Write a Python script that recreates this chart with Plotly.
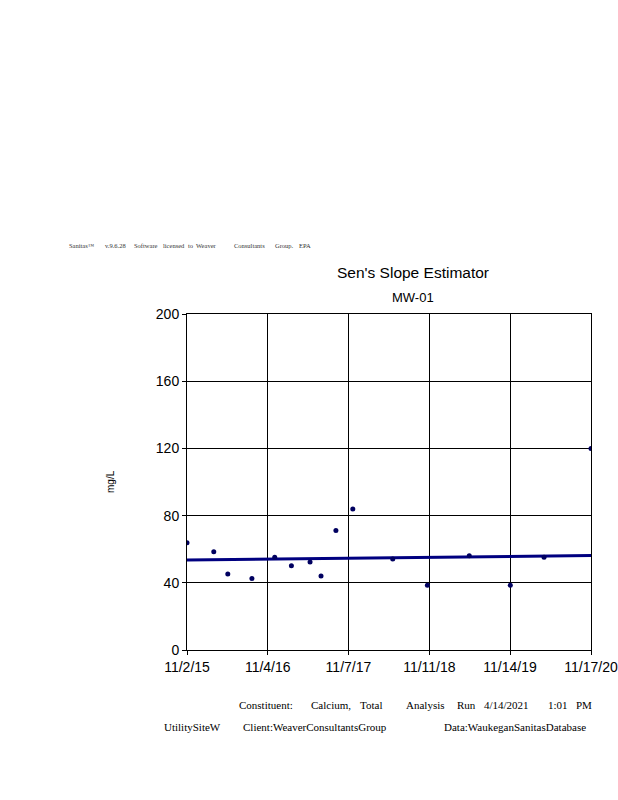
import plotly.graph_objects as go

# ---- data ----
sample_dates = ["2015-11-02", "2016-03-03", "2016-05-06", "2016-08-24", "2016-12-06",
                "2017-02-20", "2017-05-16", "2017-07-05", "2017-09-11", "2017-11-27",
                "2018-05-28", "2018-11-02", "2019-05-12", "2019-11-15", "2020-04-17",
                "2020-11-17"]
calcium = [63.9, 58.5, 45.2, 42.5, 55.2, 50.2, 52.4, 44.0, 71.2, 83.9,
           54.2, 38.5, 56.1, 38.5, 55.2, 120.0]
trend_dates = ["2015-11-02", "2020-11-17"]
trend_values = [53.6, 56.2]
x_tick_dates = ["2015-11-02", "2016-11-04", "2017-11-07", "2018-11-11", "2019-11-14", "2020-11-17"]
x_tick_labels = ["11/2/15", "11/4/16", "11/7/17", "11/11/18", "11/14/19", "11/17/20"]
y_ticks = [0, 40, 80, 120, 160, 200]

W, H = 618, 800
L, R, T, B = 187, 591, 314, 650

def px(xp):
    return (xp - L) / (R - L)

def py(yp):
    return (B - yp) / (B - T)

fig = go.Figure()
fig.add_trace(go.Scatter(x=trend_dates, y=trend_values, mode="lines",
                         line=dict(color="#000080", width=3), hoverinfo="skip"))
fig.add_trace(go.Scatter(x=sample_dates, y=calcium, mode="markers",
                         marker=dict(color="#000060", size=5, symbol="circle")))

ann = []
serif = "Liberation Serif"
sans = "Liberation Sans"
# header words
header = [("Sanitas™", 67), ("v.9.6.28", 103), ("Software", 132), ("licensed", 161), ("to", 186),
          ("Weaver", 194), ("Consultants", 232), ("Group.", 273), ("EPA", 297)]
for w, xp in header:
    ann.append(dict(text=w, x=px(xp), y=py(245), xanchor="left", yanchor="middle",
                    font=dict(family=serif, size=6.5, color="#333")))
ann.append(dict(text="Sen's Slope Estimator", x=px(413), y=py(272), xanchor="center", yanchor="middle",
                font=dict(family=sans, size=15.5, color="black")))
ann.append(dict(text="MW-01", x=px(413), y=py(297), xanchor="center", yanchor="middle",
                font=dict(family=sans, size=13, color="black")))
ann.append(dict(text="mg/L", x=px(110), y=py(482), xanchor="center", yanchor="middle", textangle=-90,
                font=dict(family=sans, size=10, color="black")))
footer1 = [("Constituent:", 237), ("Calcium,", 309), ("Total", 358), ("Analysis", 404), ("Run", 455),
           ("4/14/2021", 482), ("1:01", 546), ("PM", 574)]
for w, xp in footer1:
    ann.append(dict(text=w, x=px(xp), y=py(705), xanchor="left", yanchor="middle",
                    font=dict(family=serif, size=11, color="black")))
footer2 = [("UtilitySiteW", 162), ("Client:WeaverConsultantsGroup", 241), ("Data:WaukeganSanitasDatabase", 442)]
for w, xp in footer2:
    ann.append(dict(text=w, x=px(xp), y=py(727), xanchor="left", yanchor="middle",
                    font=dict(family=serif, size=11, color="black")))
for a in ann:
    a.update(xref="paper", yref="paper", showarrow=False)

fig.update_layout(
    width=W, height=H,
    margin=dict(l=L, r=W - R, t=T, b=H - B, pad=0, autoexpand=False),
    paper_bgcolor="white", plot_bgcolor="white",
    showlegend=False,
    annotations=ann,
    xaxis=dict(type="date", range=[x_tick_dates[0], x_tick_dates[-1]],
               tickvals=x_tick_dates, ticktext=x_tick_labels, automargin=False,
               showgrid=True, gridcolor="black", gridwidth=1,
               showline=True, linecolor="black", linewidth=1, mirror=True,
               ticks="outside", ticklen=4, tickcolor="black",
               tickfont=dict(family=sans, size=14, color="black"), zeroline=False),
    yaxis=dict(range=[0, 200], tickvals=y_ticks, automargin=False,
               showgrid=True, gridcolor="black", gridwidth=1,
               showline=True, linecolor="black", linewidth=1, mirror=True,
               ticks="outside", ticklen=4, tickcolor="black",
               tickfont=dict(family=sans, size=14, color="black"), zeroline=False),
)
fig.write_html("out.html", config={"displayModeBar": False},
               post_script="document.body.style.margin='0';document.body.style.overflow='hidden';")
